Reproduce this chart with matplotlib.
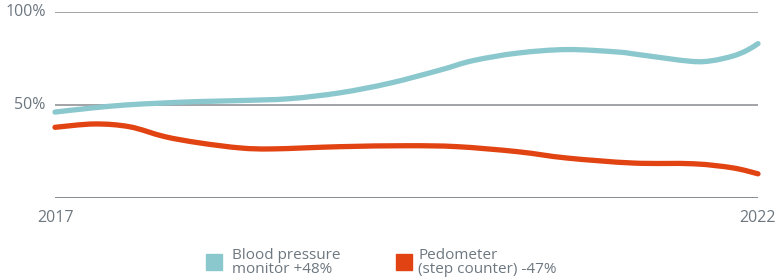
import matplotlib.pyplot as plt
import matplotlib.patches as mpatches
from matplotlib.path import Path

# values (share of users, %)
years_bp = [2017.0, 2017.25, 2017.5, 2017.75, 2018.0, 2018.32, 2018.67, 2019.03,
            2019.38, 2019.74, 2019.97, 2020.29, 2020.64, 2021.0, 2021.16, 2021.52,
            2021.67, 2021.82, 2021.92, 2022.0]
blood_pressure = [46.2, 48.3, 50.0, 51.0, 51.8, 52.4, 53.4, 56.6,
                  61.7, 68.8, 73.8, 77.9, 79.8, 78.5, 77.0, 73.5,
                  73.8, 76.3, 79.3, 83.0]

years_ped = [2017.0, 2017.28, 2017.53, 2017.78, 2018.03, 2018.32, 2018.55, 2019.03,
             2019.5, 2019.86, 2020.29, 2020.64, 2021.11, 2021.54, 2021.82, 2022.0]
pedometer = [38.0, 39.8, 38.3, 33.0, 29.6, 26.9, 26.4, 27.6,
             28.1, 27.6, 24.9, 21.5, 18.8, 18.4, 16.2, 13.0]

y_ticks = [50, 100]
y_labels = ['50%', '100%']
x_ticks = [2017, 2022]
x_labels = ['2017', '2022']

teal = '#8ac8ce'
red = '#e24312'
grey_text = '#6d7780'

plt.rcParams['font.family'] = ['Open Sans', 'DejaVu Sans']


def smooth_path(xs, ys):
    # cardinal (Catmull-Rom) curve through the points, as cubic Bezier segments
    verts = [(xs[0], ys[0])]
    codes = [Path.MOVETO]
    n = len(xs)
    for i in range(n - 1):
        x0, y0 = (xs[i - 1], ys[i - 1]) if i > 0 else (xs[i], ys[i])
        x1, y1 = xs[i], ys[i]
        x2, y2 = xs[i + 1], ys[i + 1]
        x3, y3 = (xs[i + 2], ys[i + 2]) if i + 2 < n else (x2, y2)
        verts += [(x1 + (x2 - x0) / 6, y1 + (y2 - y0) / 6),
                  (x2 - (x3 - x1) / 6, y2 - (y3 - y1) / 6),
                  (x2, y2)]
        codes += [Path.CURVE4] * 3
    return Path(verts, codes)


fig = plt.figure(figsize=(7.78, 2.8), dpi=100)
ax = fig.add_axes([55 / 778, 82 / 280, 703 / 778, 186 / 280])

for y in y_ticks:
    ax.axhline(y, color='#9a9c9f', linewidth=1.3, zorder=1)
ax.axhline(0, color='#5f6a74', linewidth=1.8, zorder=1)

for xs, ys, color in [(years_bp, blood_pressure, teal), (years_ped, pedometer, red)]:
    ax.add_patch(mpatches.PathPatch(smooth_path(xs, ys), facecolor='none', edgecolor=color,
                                    linewidth=3.8, capstyle='round', joinstyle='round',
                                    clip_on=False, zorder=3))

ax.set_xlim(2017, 2022)
ax.set_ylim(0, 100)
for s in ax.spines.values():
    s.set_visible(False)
ax.set_xticks([])
ax.set_yticks([])

for y, lab in zip(y_ticks, y_labels):
    ax.text(-0.013, y, lab, transform=ax.get_yaxis_transform(), ha='right', va='center',
            fontsize=11.5, color=grey_text)
for x, lab in zip(x_ticks, x_labels):
    ax.text(x, -10.5, lab, ha='center', va='center', fontsize=11.5, color=grey_text)

# legend, drawn by hand
legend_items = [(teal, 'Blood pressure\nmonitor +48%', 206, 232),
                (red, 'Pedometer\n(step counter) -47%', 396, 418)]
for color, label, sx, tx in legend_items:
    fig.patches.append(mpatches.Rectangle((sx / 778, (280 - 270) / 280), 16 / 778, 16 / 280,
                                          transform=fig.transFigure, color=color))
    fig.text(tx / 778, (280 - 262.5) / 280, label, ha='left', va='center',
             fontsize=11, color=grey_text, linespacing=0.95)

fig.savefig('out.png', dpi=100)
